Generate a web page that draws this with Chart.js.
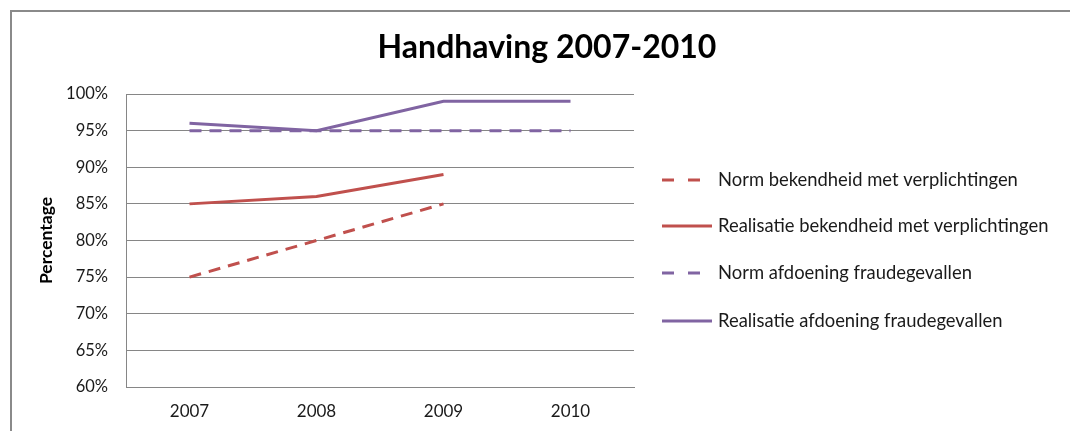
<!DOCTYPE html>
<html>
<head>
<meta charset="utf-8">
<script src="https://cdn.jsdelivr.net/npm/chart.js@4"></script>
<style>
  html, body { margin: 0; padding: 0; background: #fff; }
  #wrap { width: 1070px; height: 431px; }
</style>
</head>
<body>
<div id="wrap"><canvas id="handhavingChart" width="1070" height="431"></canvas></div>
<script>
// === Data ===
const years = ['2007', '2008', '2009', '2010'];
const normBekendheid = [75, 80, 85, null];
const realisatieBekendheid = [85, 86, 89, null];
const normFraude = [95, 95, 95, 95];
const realisatieFraude = [96, 95, 99, 99];
const yTicks = [60, 65, 70, 75, 80, 85, 90, 95, 100];

const red = '#C0504D';
const purple = '#8064A2';
const fontFamily = 'Lato, "Open Sans", sans-serif';

// === Title, legend and frame (Excel style) ===
const excelDecor = {
  id: 'excelDecor',
  afterDraw(chart) {
    const c = chart.ctx;
    c.save();
    // outer frame
    c.strokeStyle = '#8a8a8a';
    c.lineWidth = 2;
    c.strokeRect(11, 11, 1200, 600);

    // title
    c.fillStyle = '#000';
    c.font = 'bold 32px ' + fontFamily;
    c.textAlign = 'center';
    c.textBaseline = 'middle';
    c.fillText('Handhaving 2007-2010', 547, 48);

    // legend
    c.font = '18.4px ' + fontFamily;
    c.textAlign = 'left';
    const rows = [180, 226, 273, 321];
    chart.data.datasets.forEach((ds, i) => {
      const y = rows[i];
      c.strokeStyle = ds.borderColor;
      c.lineWidth = 3;
      c.setLineDash(ds.borderDash && ds.borderDash.length ? [12, 14] : []);
      c.beginPath();
      c.moveTo(662, y);
      c.lineTo(712, y);
      c.stroke();
      c.setLineDash([]);
      c.fillStyle = '#1a1a1a';
      c.fillText(ds.label, 718, y);
    });
    c.restore();
  }
};

// === Chart ===
const ctx = document.getElementById('handhavingChart').getContext('2d');
const handhavingChart = new Chart(ctx, {
  type: 'line',
  data: {
    labels: years,
    datasets: [
      { label: 'Norm bekendheid met verplichtingen', data: normBekendheid, borderColor: red, borderDash: [12, 8] },
      { label: 'Realisatie bekendheid met verplichtingen', data: realisatieBekendheid, borderColor: red },
      { label: 'Norm afdoening fraudegevallen', data: normFraude, borderColor: purple, borderDash: [12, 8] },
      { label: 'Realisatie afdoening fraudegevallen', data: realisatieFraude, borderColor: purple }
    ]
  },
  options: {
    responsive: false,
    animation: false,
    layout: { padding: { top: 94, right: 436, bottom: 0, left: 0 } },
    elements: {
      line: { borderWidth: 3, tension: 0, fill: false },
      point: { radius: 0, hoverRadius: 0 }
    },
    plugins: {
      legend: { display: false },
      title: { display: false },
      tooltip: { enabled: false }
    },
    scales: {
      x: {
        offset: true,
        grid: { display: false, drawTicks: false },
        border: { display: true, color: '#868686', width: 1 },
        ticks: { color: '#1a1a1a', padding: 14, font: { family: fontFamily, size: 17 } },
        afterFit(scale) { scale.height = 44; }
      },
      y: {
        min: 60,
        max: 100,
        afterBuildTicks(scale) { scale.ticks = yTicks.map(v => ({ value: v })); },
        grid: { color: '#868686', drawTicks: false },
        border: { display: true, color: '#868686', width: 1 },
        ticks: {
          color: '#1a1a1a',
          padding: 18,
          font: { family: fontFamily, size: 16.5 },
          callback: v => v + '%'
        },
        title: {
          display: true,
          text: 'Percentage',
          color: '#000',
          font: { family: fontFamily, size: 17.5, weight: 'bold' },
          padding: { top: 36, bottom: 0 }
        },
        afterFit(scale) { scale.width = 126; }
      }
    }
  },
  plugins: [excelDecor]
});
</script>
</body>
</html>
